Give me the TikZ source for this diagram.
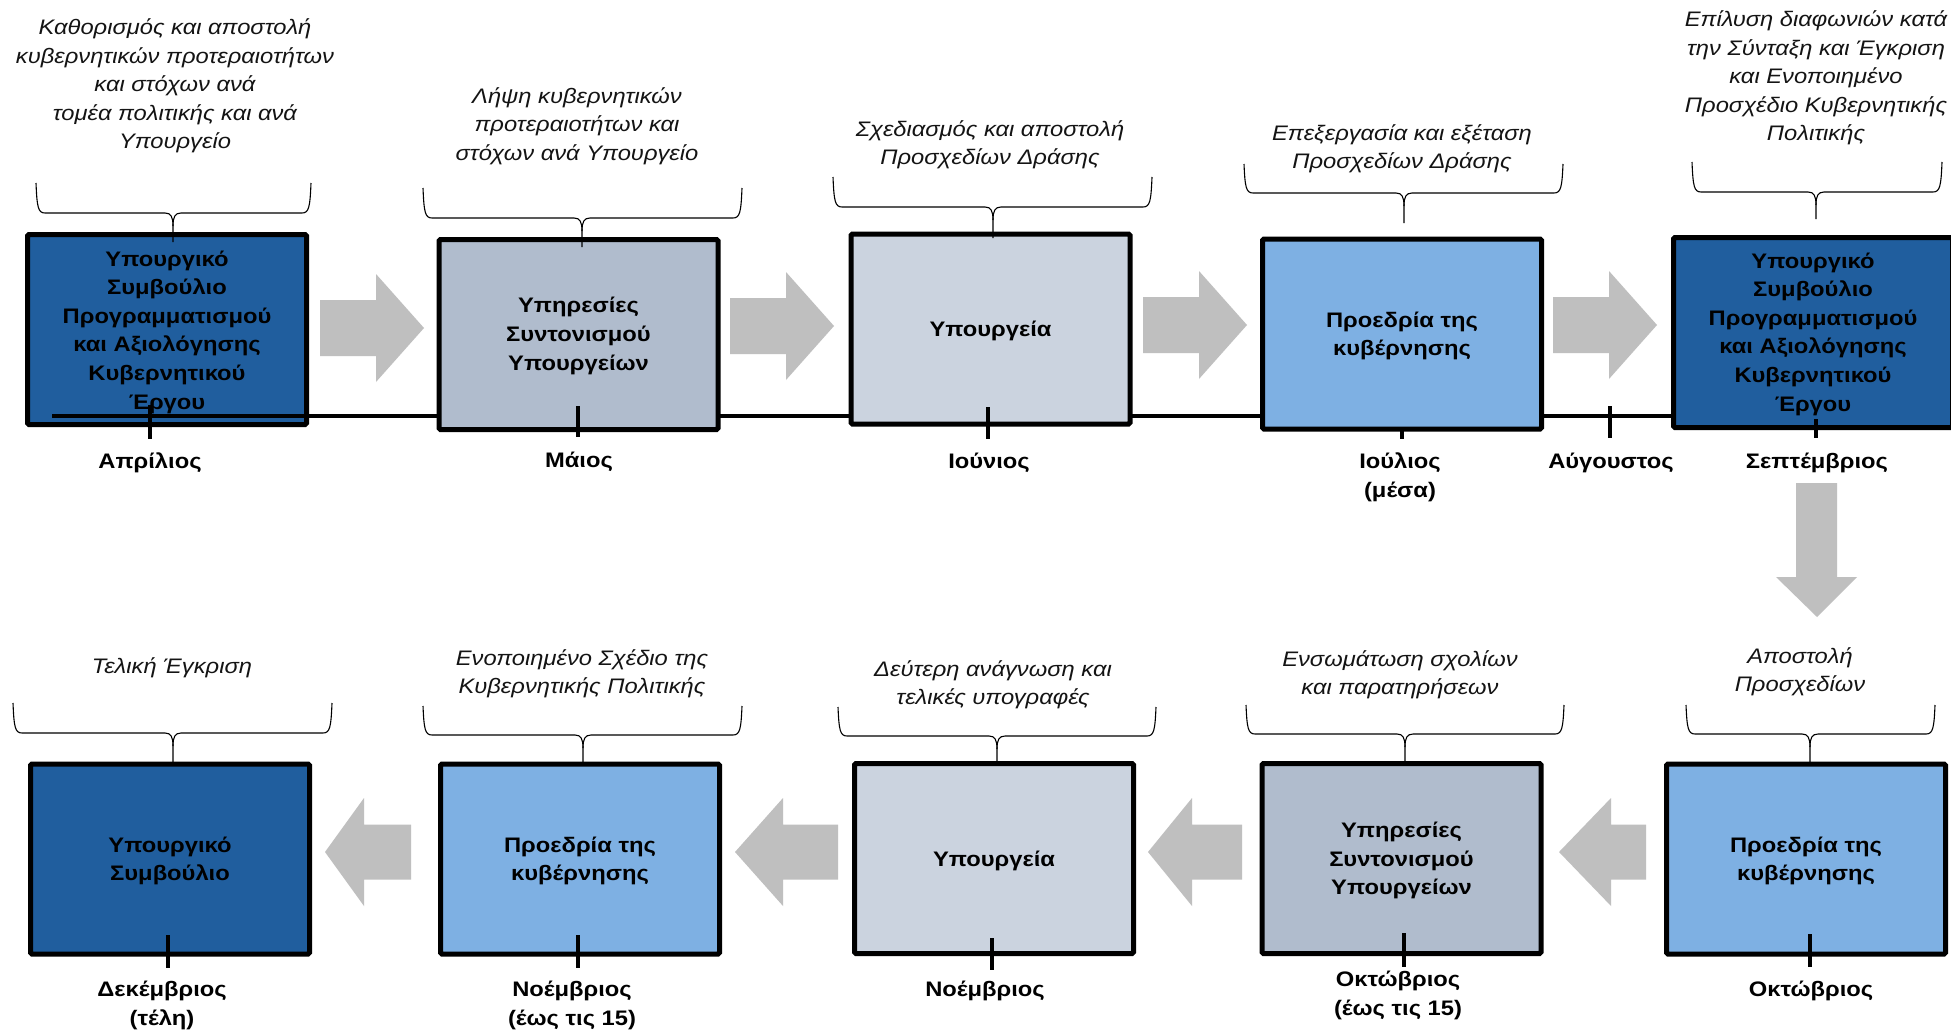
\documentclass[tikz,border=0pt]{standalone}
\usepackage{fontspec}
\setmainfont{Liberation Sans}[FakeStretch=1.13]
\definecolor{cdark}{RGB}{32,94,158}
\definecolor{cslate}{RGB}{176,188,205}
\definecolor{clight}{RGB}{203,211,223}
\definecolor{cblue}{RGB}{126,176,227}
\definecolor{cgray}{RGB}{191,191,191}
\definecolor{ctext}{RGB}{20,20,20}
\newcommand{\mybrace}[6]{%
  \draw[bracestyle] (#1,#3) .. controls (#1+1,#4-6) and (#1+2,#4) .. (#1+9,#4) -- (#5-8,#4) .. controls (#5-2,#4) and (#5,#4+4) .. (#5,#4+13) -- (#5,#6);
  \draw[bracestyle] (#2,#3) .. controls (#2-1,#4-6) and (#2-2,#4) .. (#2-9,#4) -- (#5+8,#4) .. controls (#5+2,#4) and (#5,#4+4) .. (#5,#4+13);
}
\newcommand{\rblock}[2]{%
  \fill[cgray] (#1,#2-28) -- (#1+56,#2-28) -- (#1+56,#2-54) -- (#1+104,#2) -- (#1+56,#2+54) -- (#1+56,#2+28) -- (#1,#2+28) -- cycle;
}
\newcommand{\lblock}[4]{%
  \fill[cgray] (#1,#4) -- (#2,#4-54) -- (#2,#4-27.5) -- (#3,#4-27.5) -- (#3,#4+27.5) -- (#2,#4+27.5) -- (#2,#4+54) -- cycle;
}
\tikzset{
  box/.style={draw=black, line width=5pt, rounded corners=1.5pt, minimum width=279pt, minimum height=190pt, inner sep=0pt},
  boxtext/.style={inner sep=0pt, align=center, text=black, font=\fontsize{21}{28.6}\selectfont\bfseries},
  note/.style={inner sep=0pt, align=center, text=ctext, font=\fontsize{21}{28.5}\selectfont\itshape},
  month/.style={inner sep=0pt, align=center, text=black, font=\fontsize{21}{29}\selectfont\bfseries},
  bracestyle/.style={draw=black, line width=1.1pt},
  tline/.style={draw=black, line width=3.6pt},
}
\begin{document}
\begin{tikzpicture}[x=1pt,y=-1pt]
\useasboundingbox (0,0) rectangle (1951,1030);
\clip (0,0) rectangle (1951,1030);
\fill[white] (0,0) rectangle (1951,1030);

% ---------- top row ----------
\node[box, fill=cdark] (b1) at (167,329.5) {};
\node[boxtext] (b1t) at ([yshift=-2.5pt]b1.center) {Υπουργικό\\Συμβούλιο\\Προγραμματισμού\\και Αξιολόγησης\\Κυβερνητικού\\Έργου};
\coordinate (tl0) at (52,416);
\node[box, fill=cdark] (b5) at (1813,332.5) {};
\node[boxtext] (b5t) at ([yshift=-1.5pt]b5.center) {Υπουργικό\\Συμβούλιο\\Προγραμματισμού\\και Αξιολόγησης\\Κυβερνητικού\\Έργου};
\draw[tline] (tl0) -- (tl0 -| b5.west);
\node[box, fill=cslate] (b2) at (578.5,334.5) {};
\node[boxtext] (b2t) at ([yshift=-1.5pt]b2.center) {Υπηρεσίες\\Συντονισμού\\Υπουργείων};
\node[box, fill=clight] (b3) at (990.5,329) {};
\node[boxtext] (b3t) at ([yshift=-2pt]b3.center) {Υπουργεία};
\node[box, fill=cblue] (b4) at (1402,334) {};
\node[boxtext] (b4t) at ([yshift=-2pt]b4.center) {Προεδρία της\\κυβέρνησης};

\rblock{320}{328}
\rblock{730}{326}
\rblock{1143}{325}
\rblock{1553}{325}

% down arrow
\fill[cgray] (1796,483) -- (1837,483) -- (1837,577) -- (1857,577) -- (1817,617) -- (1776,577) -- (1796,577) -- cycle;

% ticks top
\draw[tline] (150,405) -- (150,439);
\draw[tline] (578,406) -- (578,437);
\draw[tline] (988,407) -- (988,439);
\draw[tline] (1402,430) -- (1402,439);
\draw[tline] (1610,406) -- (1610,438);
\draw[tline] (1816,419) -- (1816,438);

% braces top
\mybrace{36}{311}{183}{213}{173}{242}
\mybrace{423}{742}{188}{218}{582}{247}
\mybrace{833}{1152}{177}{207}{993}{238}
\mybrace{1244}{1563}{164}{193}{1404}{223}
\mybrace{1692}{1942}{162}{192}{1816}{219}

% notes top
\node[note] (n1) at (175,86) {Καθορισμός και αποστολή\\κυβερνητικών προτεραιοτήτων\\και στόχων ανά\\τομέα πολιτικής και ανά\\Υπουργείο};
\node[note] (n2) at (577,126) {Λήψη κυβερνητικών\\προτεραιοτήτων και\\στόχων ανά Υπουργείο};
\node[note] (n3) at (990,145) {Σχεδιασμός και αποστολή\\Προσχεδίων Δράσης};
\node[note] (n4) at (1402,149) {Επεξεργασία και εξέταση\\Προσχεδίων Δράσης};
\node[note] (n5) at (1816,78) {Επίλυση διαφωνιών κατά\\την Σύνταξη και Έγκριση\\και Ενοποιημένο\\Προσχέδιο Κυβερνητικής\\Πολιτικής};

% months top
\node[month] (m1) at (150,463) {Απρίλιος};
\node[month] (m2) at (579,462) {Μάιος};
\node[month] (m3) at (989,463) {Ιούνιος};
\node[month] (m4) at (1400,477) {Ιούλιος\\(μέσα)};
\node[month] (m5) at (1611,463) {Αύγουστος};
\node[month] (m6) at (1817,463) {Σεπτέμβριος};

% ---------- bottom row ----------
\node[box, fill=cdark] (c1) at (170,859) {};
\node[boxtext] (c1t) at ([yshift=-2pt]c1.center) {Υπουργικό\\Συμβούλιο};
\node[box, fill=cblue] (c2) at (580,859) {};
\node[boxtext] (c2t) at ([yshift=-2pt]c2.center) {Προεδρία της\\κυβέρνησης};
\node[box, fill=clight] (c3) at (994,858.5) {};
\node[boxtext] (c3t) at ([yshift=-2pt]c3.center) {Υπουργεία};
\node[box, fill=cslate] (c4) at (1401.5,858.5) {};
\node[boxtext] (c4t) at ([yshift=-2pt]c4.center) {Υπηρεσίες\\Συντονισμού\\Υπουργείων};
\node[box, fill=cblue] (c5) at (1806,859) {};
\node[boxtext] (c5t) at ([yshift=-2pt]c5.center) {Προεδρία της\\κυβέρνησης};

\lblock{325}{364}{411}{852}
\lblock{735}{783}{838}{852}
\lblock{1148}{1192}{1242}{852}
\lblock{1559}{1611}{1646}{852}

% ticks bottom
\draw[tline] (168,935) -- (168,968);
\draw[tline] (578,935) -- (578,968);
\draw[tline] (992,938) -- (992,970);
\draw[tline] (1404,933) -- (1404,967);
\draw[tline] (1810,934) -- (1810,967);

% braces bottom
\mybrace{13}{332}{703}{733}{173}{762}
\mybrace{423}{742}{706}{735}{583}{762}
\mybrace{838}{1156}{707}{736}{997}{762}
\mybrace{1246}{1564}{705}{734}{1405}{761}
\mybrace{1686}{1935}{705}{734}{1810}{762}

% notes bottom
\node[note] (p1) at (172,668) {Τελική Έγκριση};
\node[note] (p2) at (582,674) {Ενοποιημένο Σχέδιο της\\Κυβερνητικής Πολιτικής};
\node[note] (p3) at (993,685) {Δεύτερη ανάγνωση και\\τελικές υπογραφές};
\node[note] (p4) at (1400,675) {Ενσωμάτωση σχολίων\\και παρατηρήσεων};
\node[note] (p5) at (1800,672) {Αποστολή\\Προσχεδίων};

% months bottom
\node[month] (q1) at (162,1005) {Δεκέμβριος\\(τέλη)};
\node[month] (q2) at (572,1005) {Νοέμβριος\\(έως τις 15)};
\node[month] (q3) at (985,991) {Νοέμβριος};
\node[month] (q4) at (1398,995) {Οκτώβριος\\(έως τις 15)};
\node[month] (q5) at (1811,991) {Οκτώβριος};
\end{tikzpicture}
\end{document}
